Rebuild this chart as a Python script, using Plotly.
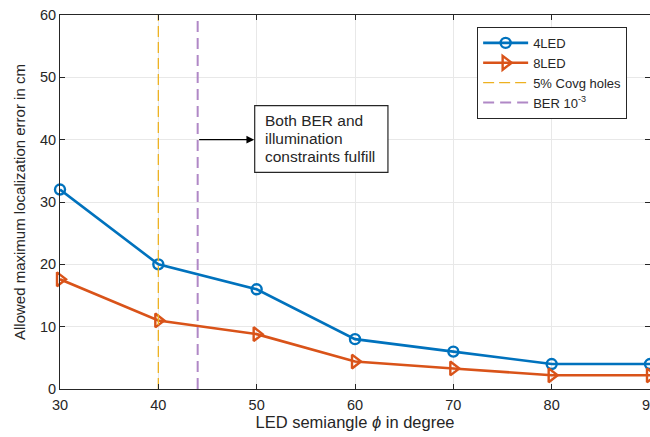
import plotly.graph_objects as go

semiangle = [30, 40, 50, 60, 70, 80, 90]
err_4led = [32, 20, 16, 8, 6, 4, 4]
err_8led = [17.6, 11, 8.8, 4.4, 3.3, 2.2, 2.2]
covg_x = 40
ber_x = 44
arrow_y = 40
xticks = [30, 40, 50, 60, 70, 80, 90]
yticks = [0, 10, 20, 30, 40, 50, 60]
note_lines = ["Both BER and", "illumination", "constraints fulfill"]
y_title = "Allowed maximum localization error in cm"

FONT = "Liberation Sans, Arial, sans-serif"
TXT = "#262626"
fig = go.Figure()
fig.add_trace(go.Scatter(
    x=semiangle, y=err_4led, name="4LED", mode="lines+markers",
    line=dict(color="#0072BD", width=2.6),
    marker=dict(symbol="circle-open", size=10, color="#0072BD", line=dict(width=2.4)),
    cliponaxis=False))
fig.add_trace(go.Scatter(
    x=semiangle, y=err_8led, name="8LED", mode="lines+markers",
    line=dict(color="#D95319", width=2.6),
    marker=dict(symbol="triangle-right-open", size=12, color="#D95319", line=dict(width=2.4)),
    cliponaxis=False))
fig.add_trace(go.Scatter(
    x=[covg_x, covg_x], y=[0, 60], name="5% Covg holes", mode="lines",
    line=dict(color="#EDB120", width=1.3, dash="11px,5px")))
fig.add_trace(go.Scatter(
    x=[ber_x, ber_x], y=[0, 60], name="BER 10<sup>-3</sup>", mode="lines",
    line=dict(color="#B088C6", width=2, dash="11px,6px")))

# note box
fig.add_shape(type="rect", xref="x", yref="y", x0=49.8, x1=63.35, y0=34.75, y1=45.45,
              line=dict(color=TXT, width=1.2), fillcolor="white", layer="above")
for i, txt in enumerate(note_lines):
    fig.add_annotation(x=50.65, y=43.05 - i * 2.85, xref="x", yref="y",
                       xanchor="left", yanchor="middle", text=txt, showarrow=False,
                       font=dict(family=FONT, size=15.5, color=TXT))
fig.add_annotation(
    x=49.75, y=arrow_y, xref="x", yref="y",
    ax=ber_x, ay=arrow_y, axref="x", ayref="y",
    showarrow=True, arrowhead=2, arrowsize=1.3, arrowwidth=1.2, arrowcolor="black",
    text="", standoff=0, startstandoff=0)
# y-axis title
fig.add_annotation(x=0, y=0.5, xref="paper", yref="paper", xshift=-41,
                   xanchor="center", yanchor="middle", textangle=-90,
                   text=y_title, showarrow=False,
                   font=dict(family=FONT, size=15, color=TXT))

fig.update_layout(
    width=650, height=437,
    margin=dict(l=60, r=0, t=15, b=48),
    plot_bgcolor="white", paper_bgcolor="white",
    font=dict(family=FONT, size=14, color=TXT),
    legend=dict(x=0.707, y=0.968, xanchor="left", yanchor="top",
                bordercolor=TXT, borderwidth=1, bgcolor="white",
                font=dict(family=FONT, size=13, color=TXT),
                tracegroupgap=0, itemwidth=45),
    showlegend=True,
)
fig.update_xaxes(range=[30, 90], tickvals=xticks, showgrid=True, gridcolor="#E8E8E8",
                 showline=True, linecolor=TXT, linewidth=1, mirror="ticks",
                 ticks="inside", ticklen=5, tickcolor=TXT, zeroline=False,
                 ticklabeloverflow="allow", ticklabelstandoff=3, automargin=False,
                 title=dict(text="LED semiangle <i>ϕ</i> in degree", standoff=4,
                            font=dict(size=16.5)),
                 tickfont=dict(size=14.5))
fig.update_yaxes(range=[0, 60], tickvals=yticks, showgrid=True, gridcolor="#E8E8E8",
                 showline=True, linecolor=TXT, linewidth=1, mirror="ticks",
                 ticks="inside", ticklen=5, tickcolor=TXT, zeroline=False,
                 ticklabeloverflow="allow", automargin=False,
                 tickfont=dict(size=14.5))
fig.write_html("out.html", config={"displayModeBar": False},
               post_script="document.body.style.margin='0';document.body.style.overflow='hidden';")
